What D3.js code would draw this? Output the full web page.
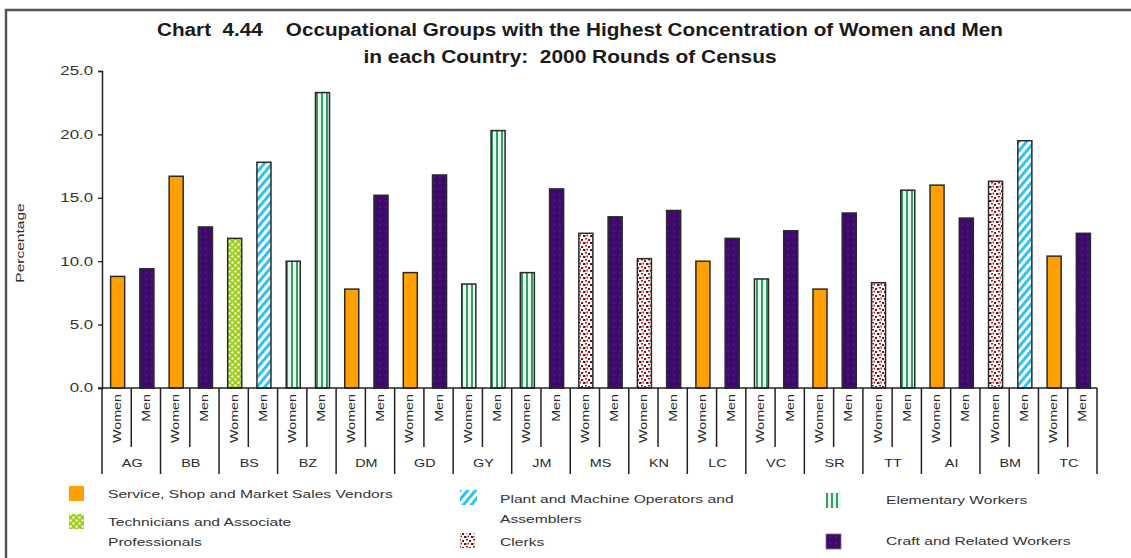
<!DOCTYPE html>
<html>
<head>
<meta charset="utf-8">
<script src="https://cdn.jsdelivr.net/npm/d3@7"></script>
<style>
  body { margin: 0; background: #fff; }
  text { font-family: Arial, "Liberation Sans", sans-serif; fill: #2a2a2a; }
</style>
</head>
<body>
<div id="chart"></div>
<script>
// Countries and the two bars in each
const countries = ["AG", "BB", "BS", "BZ", "DM", "GD", "GY", "JM", "MS", "KN", "LC", "VC", "SR", "TT", "AI", "BM", "TC"];
const sexes = ["Women", "Men"];

// Percentage in the occupational group with the highest concentration
const womenValues = [8.8, 16.7, 11.8, 10.0, 7.8, 9.1, 8.2, 9.1, 12.2, 10.2, 10.0, 8.6, 7.8, 8.3, 16.0, 16.3, 10.4];
const menValues = [9.4, 12.7, 17.8, 23.3, 15.2, 16.8, 20.3, 15.7, 13.5, 14.0, 11.8, 12.4, 13.8, 15.6, 13.4, 19.5, 12.2];

// Which occupational group each bar belongs to
const womenGroups = ["service", "service", "tech", "elementary", "service", "service", "elementary", "elementary", "clerks", "clerks", "service", "elementary", "service", "clerks", "service", "clerks", "service"];
const menGroups = ["craft", "craft", "plant", "elementary", "craft", "craft", "elementary", "craft", "craft", "craft", "craft", "craft", "craft", "elementary", "craft", "plant", "craft"];

// Legend
const groupKeys = ["service", "tech", "plant", "clerks", "elementary", "craft"];
const groupNames = [
  ["Service, Shop and Market Sales Vendors"],
  ["Technicians and Associate", "Professionals"],
  ["Plant and Machine Operators and", "Assemblers"],
  ["Clerks"],
  ["Elementary Workers"],
  ["Craft and Related Workers"]
];

const yTicks = [0, 5, 10, 15, 20, 25];

drawChart();

// The original picture is stretched sideways, so widen the glyphs a bit
function stretch(sel, k) {
  sel.each(function () {
    const w = this.getComputedTextLength();
    d3.select(this).attr("textLength", w * k).attr("lengthAdjust", "spacingAndGlyphs");
  });
}

function drawChart() {
  const width = 1131, height = 558;
  const plot = { left: 102, right: 1097, top: 71, bottom: 388 };

  const svg = d3.select("#chart")
    .append("svg")
    .attr("width", width)
    .attr("height", height);

  const defs = svg.append("defs");

  // Patterns for the hatched groups
  const plant = defs.append("pattern")
    .attr("id", "pat-plant")
    .attr("patternUnits", "userSpaceOnUse")
    .attr("width", 6).attr("height", 6)
    .attr("patternTransform", "rotate(40)");
  plant.append("rect").attr("width", 6).attr("height", 6).attr("fill", "#fff");
  plant.append("rect").attr("width", 3).attr("height", 6).attr("fill", "#2bc4f2");

  const elem = defs.append("pattern")
    .attr("id", "pat-elementary")
    .attr("patternUnits", "userSpaceOnUse")
    .attr("width", 5).attr("height", 5);
  elem.append("rect").attr("width", 5).attr("height", 5).attr("fill", "#e4f7ec");
  elem.append("rect").attr("x", 1).attr("width", 2).attr("height", 5).attr("fill", "#3c9a68");

  const tech = defs.append("pattern")
    .attr("id", "pat-tech")
    .attr("patternUnits", "userSpaceOnUse")
    .attr("width", 6).attr("height", 6);
  tech.append("rect").attr("width", 6).attr("height", 6).attr("fill", "#9ccc1c");
  tech.append("circle").attr("cx", 1.5).attr("cy", 1.5).attr("r", 1.3).attr("fill", "#f4fbe0");
  tech.append("circle").attr("cx", 4.5).attr("cy", 4.5).attr("r", 1.3).attr("fill", "#f4fbe0");

  const clerks = defs.append("pattern")
    .attr("id", "pat-clerks")
    .attr("patternUnits", "userSpaceOnUse")
    .attr("width", 7).attr("height", 7);
  clerks.append("rect").attr("width", 7).attr("height", 7).attr("fill", "#fff");
  clerks.append("rect").attr("x", 0).attr("y", 1).attr("width", 2).attr("height", 2).attr("fill", "#8c1010");
  clerks.append("rect").attr("x", 4).attr("y", 0).attr("width", 2).attr("height", 1.5).attr("fill", "#a02020");
  clerks.append("rect").attr("x", 2).attr("y", 4).attr("width", 2.5).attr("height", 2).attr("fill", "#7a0a0a");
  clerks.append("rect").attr("x", 5.5).attr("y", 3.5).attr("width", 1.5).attr("height", 2).attr("fill", "#b03030");

  const craft = defs.append("pattern")
    .attr("id", "pat-craft")
    .attr("patternUnits", "userSpaceOnUse")
    .attr("width", 6).attr("height", 6);
  craft.append("rect").attr("width", 6).attr("height", 6).attr("fill", "#3e0b6c");
  craft.append("rect").attr("x", 1).attr("y", 2).attr("width", 2).attr("height", 2).attr("fill", "#4a1580");
  craft.append("rect").attr("x", 4).attr("y", 4).attr("width", 1.5).attr("height", 1.5).attr("fill", "#33085c");

  const fills = {
    service: "#ffa000",
    tech: "url(#pat-tech)",
    plant: "url(#pat-plant)",
    clerks: "url(#pat-clerks)",
    elementary: "url(#pat-elementary)",
    craft: "url(#pat-craft)"
  };

  // Outer frame (cut off at the right and bottom of the picture)
  svg.append("rect")
    .attr("x", 6).attr("y", 10)
    .attr("width", 1200).attr("height", 700)
    .attr("fill", "none")
    .attr("stroke", "#555")
    .attr("stroke-width", 2.5);

  // Title, stretched to the width it has in the original
  svg.append("text")
    .attr("x", 580).attr("y", 36)
    .attr("text-anchor", "middle")
    .attr("xml:space", "preserve")
    .attr("textLength", 846)
    .attr("lengthAdjust", "spacingAndGlyphs")
    .style("font-size", "17.5px")
    .style("font-weight", "bold")
    .style("fill", "#1a1a1a")
    .text("Chart  4.44    Occupational Groups with the Highest Concentration of Women and Men");
  svg.append("text")
    .attr("x", 570).attr("y", 63)
    .attr("text-anchor", "middle")
    .attr("xml:space", "preserve")
    .attr("textLength", 413)
    .attr("lengthAdjust", "spacingAndGlyphs")
    .style("font-size", "17.5px")
    .style("font-weight", "bold")
    .style("fill", "#1a1a1a")
    .text("in each Country:  2000 Rounds of Census");

  // Scales
  const x0 = d3.scaleBand().domain(countries).range([plot.left, plot.right]);
  const x1 = d3.scaleBand().domain(sexes).range([0, x0.bandwidth()]);
  const y = d3.scaleLinear().domain([0, 25]).range([plot.bottom, plot.top]);

  // Y axis
  const yAxis = svg.append("g")
    .attr("transform", "translate(" + plot.left + ",0)")
    .call(d3.axisLeft(y).tickValues(yTicks).tickSize(4).tickFormat(d3.format(".1f")));
  yAxis.select(".domain").attr("stroke", "#222").attr("stroke-width", 1.5);
  yAxis.selectAll(".tick line").attr("stroke", "#222").attr("stroke-width", 1.3);
  const yLabels = yAxis.selectAll("text")
    .attr("x", -9)
    .style("font-size", "12px")
    .style("font-family", "Arial, 'Liberation Sans', sans-serif")
    .style("fill", "#333");
  stretch(yLabels, 1.4);

  const yTitle = svg.append("text")
    .attr("transform", "translate(24," + 243 + ")rotate(-90)")
    .attr("text-anchor", "middle")
    .style("font-size", "11.5px")
    .text("Percentage");
  stretch(yTitle, 1.35);

  // Bars
  const bars = countries.flatMap(function (c, i) {
    return [
      { country: c, sex: "Women", value: womenValues[i], group: womenGroups[i] },
      { country: c, sex: "Men", value: menValues[i], group: menGroups[i] }
    ];
  });

  const barW = x1.bandwidth() * 0.48;
  svg.selectAll("rect.bar")
    .data(bars)
    .enter()
    .append("rect")
    .attr("class", "bar")
    .attr("x", function (d) { return x0(d.country) + x1(d.sex) + (x1.bandwidth() - barW) / 2 + 1; })
    .attr("y", function (d) { return y(d.value); })
    .attr("width", barW)
    .attr("height", function (d) { return y(0) - y(d.value); })
    .attr("fill", function (d) { return fills[d.group]; })
    .attr("stroke", "#2a2a2a")
    .attr("stroke-width", 1.5);

  // Category table under the axis
  const table = svg.append("g").attr("stroke", "#222").attr("stroke-width", 1.5);
  table.append("line")
    .attr("x1", plot.left - 4).attr("x2", plot.right)
    .attr("y1", y(0)).attr("y2", y(0));
  table.selectAll("line.group")
    .data(countries.concat(["end"]))
    .enter()
    .append("line")
    .attr("class", "group")
    .attr("x1", function (d) { return d === "end" ? plot.right : x0(d); })
    .attr("x2", function (d) { return d === "end" ? plot.right : x0(d); })
    .attr("y1", y(0)).attr("y2", 474);
  table.selectAll("line.sub")
    .data(countries)
    .enter()
    .append("line")
    .attr("class", "sub")
    .attr("x1", function (d) { return x0(d) + x1("Men"); })
    .attr("x2", function (d) { return x0(d) + x1("Men"); })
    .attr("y1", y(0)).attr("y2", 447);

  const sexLabels = svg.selectAll("text.sex")
    .data(bars)
    .enter()
    .append("text")
    .attr("class", "sex")
    .attr("transform", function (d) {
      const cx = x0(d.country) + x1(d.sex) + x1.bandwidth() / 2 + 4;
      return "translate(" + cx + ",394)rotate(-90)";
    })
    .attr("text-anchor", "end")
    .style("font-size", "11px")
    .text(function (d) { return d.sex; });
  stretch(sexLabels, 1.3);

  const countryLabels = svg.selectAll("text.country")
    .data(countries)
    .enter()
    .append("text")
    .attr("class", "country")
    .attr("x", function (d) { return x0(d) + x0.bandwidth() / 2 + 1; })
    .attr("y", 467)
    .attr("text-anchor", "middle")
    .style("font-size", "11.5px")
    .text(function (d) { return d; });
  stretch(countryLabels, 1.25);

  // Legend
  const legendPos = [
    { sx: 69, sy: 486, tx: 108, ty: 498 },
    { sx: 69, sy: 514, tx: 108, ty: 526 },
    { sx: 460, sy: 490, tx: 500, ty: 503 },
    { sx: 460, sy: 533, tx: 500, ty: 546 },
    { sx: 826, sy: 493, tx: 886, ty: 504 },
    { sx: 826, sy: 534, tx: 886, ty: 545 }
  ];
  const legend = svg.selectAll("g.legend")
    .data(groupKeys)
    .enter()
    .append("g")
    .attr("class", "legend");
  legend.append("rect")
    .attr("x", function (d, i) { return legendPos[i].sx; })
    .attr("y", function (d, i) { return legendPos[i].sy; })
    .attr("width", function (d) { return d === "plant" ? 17 : 15; })
    .attr("height", 15)
    .attr("fill", function (d) { return fills[d]; })
    .attr("stroke", function (d) { return d === "craft" ? "#777" : "none"; })
    .attr("stroke-width", 0.8);
  legend.each(function (d, i) {
    const g = d3.select(this);
    groupNames[i].forEach(function (line, j) {
      const t = g.append("text")
        .attr("x", legendPos[i].tx)
        .attr("y", legendPos[i].ty + j * 20)
        .style("font-size", "11px")
        .style("fill", "#333")
        .text(line);
      stretch(t, 1.42);
    });
  });
}
</script>
</body>
</html>
